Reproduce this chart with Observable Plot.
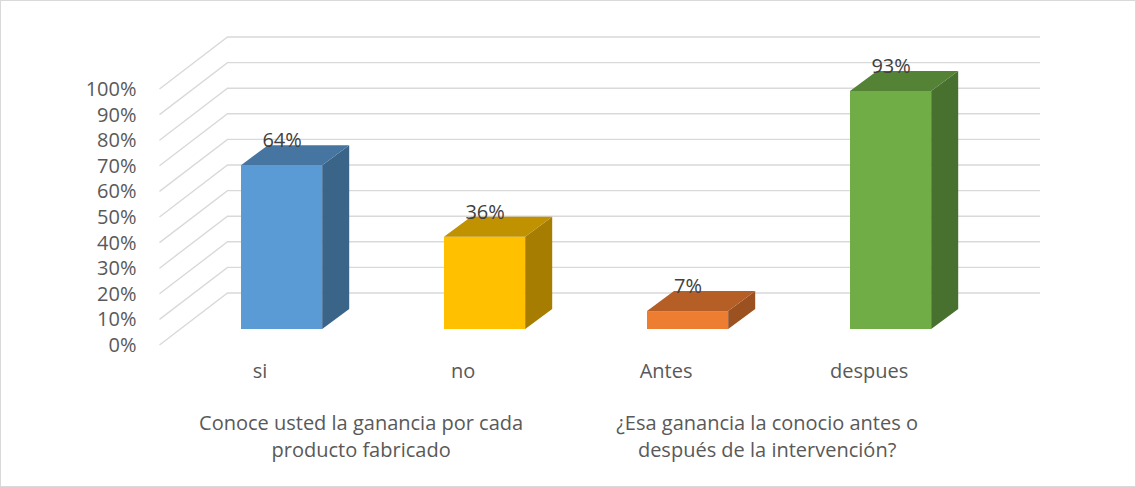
<!DOCTYPE html>
<html>
<head>
<meta charset="utf-8">
<script src="https://cdn.jsdelivr.net/npm/d3@7"></script>
<script src="https://cdn.jsdelivr.net/npm/@observablehq/plot@0.6"></script>
<style>
  html, body { margin: 0; padding: 0; background: #fff; }
  #chart svg { display: block; outline: 1px solid #d9d9d9; outline-offset: -1px; }
</style>
</head>
<body>
<div id="chart"></div>
<script>
// ---- data ----
const categories = ["si", "no", "Antes", "despues"];
const values = [0.64, 0.36, 0.07, 0.93];
const categoryGroup = [0, 0, 1, 1];
const groupLabels = [
  ["Conoce usted la ganancia por cada", "producto fabricado"],
  ["¿Esa ganancia la conocio antes o", "después de la intervención?"]
];
const tickValues = [0, 0.1, 0.2, 0.3, 0.4, 0.5, 0.6, 0.7, 0.8, 0.9, 1.0];
const tickLabels = ["0%", "10%", "20%", "30%", "40%", "50%", "60%", "70%", "80%", "90%", "100%"];
const valueLabels = ["64%", "36%", "7%", "93%"];
const frontColors = ["#5b9bd5", "#ffc000", "#ed7d31", "#70ad47"];
const sideColors  = ["#3b6489", "#a67d00", "#9b5120", "#48702e"];
const topColors   = ["#4675a2", "#c09100", "#b55e25", "#548335"];

const data = categories.map((c, i) => ({
  cat: c, value: values[i], label: valueLabels[i], group: categoryGroup[i],
  front: frontColors[i], side: sideColors[i], top: topColors[i]
}));
const ticks = tickValues.map((v, i) => ({v, label: tickLabels[i]}));

// ---- 3D geometry (pixel offsets for depth) ----
const FONT = "'Open Sans', sans-serif";
const barDX = 27, barDY = -20;          // bar depth
const planeDX = 20, planeDY = 16;       // bar plane offset from front plane
const wallDX = 68, wallDY = -52;        // total depth front plane -> back wall
const wallRight = 1040;

function gridMark(index, scales, values, dims) {
  const g = d3.create("svg:g");
  const y = scales.y;
  const xFront = dims.marginLeft + planeDX;
  for (const t of ticks) {
    const yf = y(t.v) + planeDY;
    const yb = yf + wallDY;
    g.append("path")
      .attr("d", `M${xFront},${yf}L${xFront + wallDX},${yb}L${wallRight},${yb}`)
      .attr("fill", "none")
      .attr("stroke", "#d9d9d9")
      .attr("stroke-width", 1.4);
  }
  return g.node();
}

function barFaces(index, scales, values, dims) {
  const g = d3.create("svg:g");
  const {x, y} = scales;
  const bw = x.bandwidth();
  for (const d of data) {
    const x1 = x(d.cat), x2 = x1 + bw;
    const y0 = y(0), yv = y(d.value);
    g.append("path")
      .attr("d", `M${x2},${yv}L${x2 + barDX},${yv + barDY}L${x2 + barDX},${y0 + barDY}L${x2},${y0}Z`)
      .attr("fill", d.side);
    g.append("path")
      .attr("d", `M${x1},${yv}L${x1 + barDX},${yv + barDY}L${x2 + barDX},${yv + barDY}L${x2},${yv}Z`)
      .attr("fill", d.top);
  }
  return g.node();
}

function groupMark(index, scales, values, dims) {
  const g = d3.create("svg:g")
    .attr("font-family", FONT).attr("font-size", 20).attr("fill", "#595959")
    .attr("text-anchor", "middle");
  const {x} = scales;
  const bw = x.bandwidth();
  groupLabels.forEach((lines, gi) => {
    const members = data.filter(d => d.group === gi);
    const cx = d3.mean(members, d => x(d.cat) + bw / 2) - 22;
    const t = g.append("text").attr("x", cx).attr("y", 423);
    lines.forEach((ln, li) => {
      t.append("tspan").attr("x", cx).attr("y", 423 + li * 27)
        .attr("dy", "0.35em").text(ln);
    });
  });
  return g.node();
}

const chart = Plot.plot({
  width: 1136,
  height: 487,
  marginLeft: 139.5,
  marginRight: 103.3,
  marginTop: 73,
  marginBottom: 158,
  style: {background: "#fff", fontFamily: FONT},
  x: {type: "band", domain: categories, paddingInner: 0.6, paddingOuter: 0.5, round: false, axis: null},
  y: {domain: [0, 1], axis: null},
  marks: [
    gridMark,
    Plot.barY(data, {x: "cat", y: "value", fill: "front"}),
    barFaces,
    // y tick labels (front plane)
    Plot.text(ticks, {
      y: "v", text: "label", frameAnchor: "left", textAnchor: "end",
      dx: -3.5, dy: planeDY, fontSize: 20, fill: "#595959"
    }),
    // value labels
    Plot.text(data, {
      x: "cat", y: "value", text: "label", dy: -25, fontSize: 20, fill: "#404040"
    }),
    // category labels
    Plot.text(data, {
      x: "cat", text: "cat", frameAnchor: "bottom", dy: 48, dx: -22,
      fontSize: 20, fill: "#595959"
    }),
    groupMark
  ]
});

document.getElementById("chart").appendChild(chart);
</script>
</body>
</html>
